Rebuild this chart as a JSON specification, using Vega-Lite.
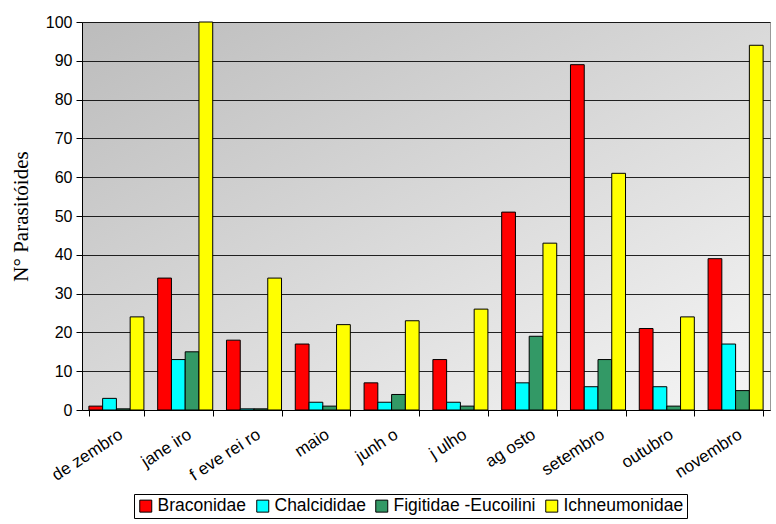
{
  "$schema": "https://vega.github.io/schema/vega-lite/v6.json",
  "autosize": "none",
  "width": 688,
  "height": 388,
  "padding": {"left": 82, "top": 22, "right": 6, "bottom": 114},
  "background": "white",
  "config": {
    "view": {
      "stroke": "#999",
      "fill": {"gradient": "linear", "x1": 0, "y1": 0, "x2": 1, "y2": 1, "stops": [{"offset": 0, "color": "#bcbcbc"}, {"offset": 1, "color": "#f6f6f6"}]}
    },
    "font": "Liberation Sans"
  },
  "data": {
    "values": [
      {"mes": "de zembro", "familia": "Braconidae", "n": 1},
      {"mes": "de zembro", "familia": "Chalcididae", "n": 3},
      {"mes": "de zembro", "familia": "Figitidae -Eucoilini", "n": 0.3},
      {"mes": "de zembro", "familia": "Ichneumonidae", "n": 24},
      {"mes": "jane iro", "familia": "Braconidae", "n": 34},
      {"mes": "jane iro", "familia": "Chalcididae", "n": 13},
      {"mes": "jane iro", "familia": "Figitidae -Eucoilini", "n": 15},
      {"mes": "jane iro", "familia": "Ichneumonidae", "n": 100},
      {"mes": "f eve rei ro", "familia": "Braconidae", "n": 18},
      {"mes": "f eve rei ro", "familia": "Chalcididae", "n": 0.3},
      {"mes": "f eve rei ro", "familia": "Figitidae -Eucoilini", "n": 0.3},
      {"mes": "f eve rei ro", "familia": "Ichneumonidae", "n": 34},
      {"mes": "maio", "familia": "Braconidae", "n": 17},
      {"mes": "maio", "familia": "Chalcididae", "n": 2},
      {"mes": "maio", "familia": "Figitidae -Eucoilini", "n": 1},
      {"mes": "maio", "familia": "Ichneumonidae", "n": 22},
      {"mes": "junh o", "familia": "Braconidae", "n": 7},
      {"mes": "junh o", "familia": "Chalcididae", "n": 2},
      {"mes": "junh o", "familia": "Figitidae -Eucoilini", "n": 4},
      {"mes": "junh o", "familia": "Ichneumonidae", "n": 23},
      {"mes": "j ulho", "familia": "Braconidae", "n": 13},
      {"mes": "j ulho", "familia": "Chalcididae", "n": 2},
      {"mes": "j ulho", "familia": "Figitidae -Eucoilini", "n": 1},
      {"mes": "j ulho", "familia": "Ichneumonidae", "n": 26},
      {"mes": "ag osto", "familia": "Braconidae", "n": 51},
      {"mes": "ag osto", "familia": "Chalcididae", "n": 7},
      {"mes": "ag osto", "familia": "Figitidae -Eucoilini", "n": 19},
      {"mes": "ag osto", "familia": "Ichneumonidae", "n": 43},
      {"mes": "setembro", "familia": "Braconidae", "n": 89},
      {"mes": "setembro", "familia": "Chalcididae", "n": 6},
      {"mes": "setembro", "familia": "Figitidae -Eucoilini", "n": 13},
      {"mes": "setembro", "familia": "Ichneumonidae", "n": 61},
      {"mes": "outubro", "familia": "Braconidae", "n": 21},
      {"mes": "outubro", "familia": "Chalcididae", "n": 6},
      {"mes": "outubro", "familia": "Figitidae -Eucoilini", "n": 1},
      {"mes": "outubro", "familia": "Ichneumonidae", "n": 24},
      {"mes": "novembro", "familia": "Braconidae", "n": 39},
      {"mes": "novembro", "familia": "Chalcididae", "n": 17},
      {"mes": "novembro", "familia": "Figitidae -Eucoilini", "n": 5},
      {"mes": "novembro", "familia": "Ichneumonidae", "n": 94}
    ]
  },
  "mark": {"type": "bar", "stroke": "black", "strokeWidth": 1},
  "encoding": {
    "x": {
      "field": "mes", "type": "nominal", "sort": null,
      "scale": {"paddingInner": 0.2, "paddingOuter": 0.1},
      "axis": {
        "title": null, "labelAngle": -33, "labelAlign": "right", "labelBaseline": "top",
        "labelFontSize": 17, "labelColor": "black", "labelPadding": 10,
        "domainColor": "black", "tickColor": "black", "tickSize": 6, "tickBand": "extent"
      }
    },
    "y": {
      "field": "n", "type": "quantitative",
      "scale": {"domain": [0, 100], "nice": false},
      "axis": {
        "title": "N° Parasitóides", "titleFont": "Liberation Serif", "titleFontSize": 21,
        "titleFontWeight": "normal", "titleColor": "black", "titlePadding": 14,
        "values": [0, 10, 20, 30, 40, 50, 60, 70, 80, 90, 100],
        "labelFontSize": 16, "labelColor": "black", "labelPadding": 4,
        "domainColor": "black", "tickColor": "black", "tickSize": 6,
        "gridColor": "black", "gridOpacity": 0.85
      }
    },
    "xOffset": {"field": "familia", "type": "nominal", "scale": {"paddingInner": 0}},
    "color": {
      "field": "familia", "type": "nominal",
      "scale": {
        "domain": ["Braconidae", "Chalcididae", "Figitidae -Eucoilini", "Ichneumonidae"],
        "range": ["#ff0000", "#00ffff", "#339966", "#ffff00"]
      },
      "legend": {
        "title": null, "orient": "none", "direction": "horizontal",
        "legendX": 52, "legendY": 472,
        "symbolType": "square", "symbolSize": 144, "symbolStrokeColor": "black", "symbolStrokeWidth": 1,
        "labelFontSize": 17.5, "labelColor": "black", "columnPadding": 7, "symbolOffset": 0,
        "strokeColor": "black", "padding": 3, "labelOffset": 3
      }
    }
  }
}
